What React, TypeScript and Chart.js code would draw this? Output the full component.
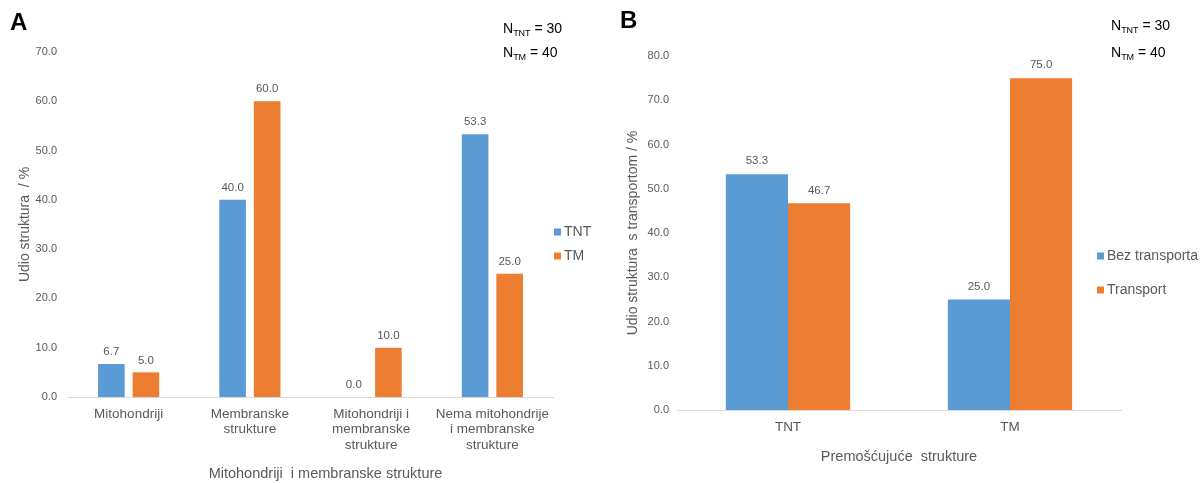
import React, { useEffect, useRef } from "react";
import { Chart, registerables } from "chart.js";

Chart.register(...registerables);

// ---------- data ----------
const categoriesA: string[][] = [
  ["Mitohondriji"],
  ["Membranske", "strukture"],
  ["Mitohondriji i", "membranske", "strukture"],
  ["Nema mitohondrije", "i membranske", "strukture"],
];
const seriesNamesA = ["TNT", "TM"];
const tntValuesA = [6.7, 40.0, 0.0, 53.3];
const tmValuesA = [5.0, 60.0, 10.0, 25.0];
const yMaxA = 70;
const yStepA = 10;

const categoriesB = ["TNT", "TM"];
const seriesNamesB = ["Bez transporta", "Transport"];
const bezTransportaB = [53.3, 25.0];
const transportB = [46.7, 75.0];
const yMaxB = 80;
const yStepB = 10;

const yTitleA = "Udio struktura  / %";
const xTitleA = "Mitohondriji  i membranske strukture";
const yTitleB = "Udio struktura  s transportom / %";
const xTitleB = "Premošćujuće  strukture";

// ---------- styles ----------
const FONT = "'Liberation Sans', Arial, Helvetica, sans-serif";
const BLUE = "#5B9BD5";
const ORANGE = "#ED7D31";
const TEXT = "#595959";
const AXIS = "#D9D9D9";

const valueLabels = {
  id: "valueLabels",
  afterDatasetsDraw(chart: any, _args: any, opts: any) {
    const ctx = chart.ctx;
    ctx.save();
    ctx.font = `${opts.size}px ${FONT}`;
    ctx.fillStyle = opts.color;
    ctx.textAlign = "center";
    ctx.textBaseline = "middle";
    chart.data.datasets.forEach((ds: any, i: number) => {
      const meta = chart.getDatasetMeta(i);
      meta.data.forEach((el: any, j: number) => {
        const v = Number(ds.data[j]);
        ctx.fillText(v.toFixed(1), el.x, el.y - opts.offset);
      });
    });
    ctx.restore();
  },
};

const sideLegend = {
  id: "sideLegend",
  afterDraw(chart: any, _args: any, opts: any) {
    const ctx = chart.ctx;
    ctx.save();
    ctx.font = `${opts.size}px ${FONT}`;
    ctx.textAlign = "left";
    ctx.textBaseline = "middle";
    chart.data.datasets.forEach((ds: any, i: number) => {
      const cy = opts.y + i * opts.gap;
      ctx.fillStyle = ds.backgroundColor;
      ctx.fillRect(opts.x, cy - opts.box / 2, opts.box, opts.box);
      ctx.fillStyle = opts.color;
      ctx.fillText(ds.label, opts.x + opts.box + 3, cy);
    });
    ctx.restore();
  },
};

const xTitle = {
  id: "xTitle",
  afterDraw(chart: any, _args: any, opts: any) {
    const ctx = chart.ctx;
    ctx.save();
    ctx.font = `${opts.size}px ${FONT}`;
    ctx.fillStyle = opts.color;
    ctx.textAlign = "center";
    ctx.textBaseline = "middle";
    const ca = chart.chartArea;
    ctx.fillText(opts.text, (ca.left + ca.right) / 2 + opts.dx, ca.bottom + opts.dy);
    ctx.restore();
  },
};

function makeConfig(p: {
  labels: any[];
  names: string[];
  a: number[];
  b: number[];
  max: number;
  step: number;
  yTitle: string;
  xTitleText: string;
  catPct: number;
  barPct: number;
  padRight: number;
  padTop: number;
  yWidth: number;
  xHeight: number;
  yTickPad: number;
  yTitlePad: number;
  xTitleDx: number;
  xTitleDy: number;
  valueOffset: number;
  legend: { x: number; y: number; gap: number };
}) {
  return {
    type: "bar",
    data: {
      labels: p.labels,
      datasets: [
        {
          label: p.names[0],
          data: p.a,
          backgroundColor: BLUE,
          borderWidth: 0,
          categoryPercentage: p.catPct,
          barPercentage: p.barPct,
        },
        {
          label: p.names[1],
          data: p.b,
          backgroundColor: ORANGE,
          borderWidth: 0,
          categoryPercentage: p.catPct,
          barPercentage: p.barPct,
        },
      ],
    },
    options: {
      responsive: false,
      maintainAspectRatio: false,
      animation: false,
      events: [],
      layout: { padding: { left: 0, right: p.padRight, top: p.padTop, bottom: 0 } },
      plugins: {
        legend: { display: false },
        tooltip: { enabled: false },
        valueLabels: { size: 11.5, color: TEXT, offset: p.valueOffset },
        sideLegend: { ...p.legend, size: 14, color: TEXT, box: 7 },
        xTitle: { text: p.xTitleText, size: 14.5, color: TEXT, dx: p.xTitleDx, dy: p.xTitleDy },
      },
      scales: {
        x: {
          grid: { display: false, drawTicks: false },
          border: { display: true, color: AXIS, width: 1 },
          ticks: {
            color: TEXT,
            font: { family: FONT, size: 13.5, lineHeight: 1.12 },
            padding: 10,
            maxRotation: 0,
            minRotation: 0,
            autoSkip: false,
          },
          afterFit: (a: any) => {
            a.height = p.xHeight;
          },
        },
        y: {
          min: 0,
          max: p.max,
          grid: { display: false, drawTicks: false },
          border: { display: false },
          ticks: {
            stepSize: p.step,
            color: TEXT,
            font: { family: FONT, size: 11 },
            padding: p.yTickPad,
            callback: (v: any) => Number(v).toFixed(1),
          },
          title: {
            display: true,
            text: p.yTitle,
            color: TEXT,
            font: { family: FONT, size: 14, lineHeight: 1.2 },
            padding: { top: p.yTitlePad, bottom: 0 },
          },
          afterFit: (a: any) => {
            a.width = p.yWidth;
          },
        },
      },
    },
    plugins: [valueLabels, sideLegend, xTitle],
  } as any;
}

function BarChart({ config, left }: { config: any; left: number }) {
  const ref = useRef<HTMLCanvasElement | null>(null);
  useEffect(() => {
    if (!ref.current) return;
    const chart = new Chart(ref.current, config);
    return () => chart.destroy();
  }, [config]);
  return (
    <canvas
      ref={ref}
      width={600}
      height={483}
      style={{ position: "absolute", left, top: 0, width: 600, height: 483 }}
    />
  );
}

const configA = makeConfig({
  labels: categoriesA,
  names: seriesNamesA,
  a: tntValuesA,
  b: tmValuesA,
  max: yMaxA,
  step: yStepA,
  yTitle: yTitleA,
  xTitleText: xTitleA,
  catPct: 0.57,
  barPct: 0.77,
  padRight: 47,
  padTop: 52,
  yWidth: 68,
  xHeight: 86,
  yTickPad: 11,
  yTitlePad: 17,
  xTitleDx: 15,
  xTitleDy: 77,
  valueOffset: 12,
  legend: { x: 554, y: 232, gap: 24 },
});

const configB = makeConfig({
  labels: categoriesB,
  names: seriesNamesB,
  a: bezTransportaB,
  b: transportB,
  max: yMaxB,
  step: yStepB,
  yTitle: yTitleB,
  xTitleText: xTitleB,
  catPct: 0.56,
  barPct: 1.0,
  padRight: 79,
  padTop: 56,
  yWidth: 77,
  xHeight: 73,
  yTickPad: 8,
  yTitlePad: 25,
  xTitleDx: 0,
  xTitleDy: 47,
  valueOffset: 13,
  legend: { x: 497, y: 256, gap: 34 },
});

const nStyle: React.CSSProperties = {
  position: "absolute",
  fontFamily: FONT,
  fontSize: 14,
  lineHeight: "14px",
  color: "#000",
  whiteSpace: "nowrap",
};
const subStyle: React.CSSProperties = { fontSize: 9, verticalAlign: "-3px", lineHeight: 0 };
const panelStyle: React.CSSProperties = {
  position: "absolute",
  fontFamily: FONT,
  fontSize: 24,
  fontWeight: "bold",
  lineHeight: "24px",
  color: "#000",
};

export default function App() {
  return (
    <div style={{ position: "absolute", left: 0, top: 0, width: 1200, height: 483, background: "#fff", overflow: "hidden" }}>
      <BarChart config={configA} left={0} />
      <BarChart config={configB} left={600} />
      <div style={{ ...panelStyle, left: 10, top: 10 }}>A</div>
      <div style={{ ...panelStyle, left: 620, top: 8 }}>B</div>
      <div style={{ ...nStyle, left: 503, top: 21 }}>
        N<sub style={subStyle}>TNT</sub> = 30
      </div>
      <div style={{ ...nStyle, left: 503, top: 45 }}>
        N<sub style={subStyle}>TM</sub> = 40
      </div>
      <div style={{ ...nStyle, left: 1111, top: 18 }}>
        N<sub style={subStyle}>TNT</sub> = 30
      </div>
      <div style={{ ...nStyle, left: 1111, top: 45 }}>
        N<sub style={subStyle}>TM</sub> = 40
      </div>
    </div>
  );
}
